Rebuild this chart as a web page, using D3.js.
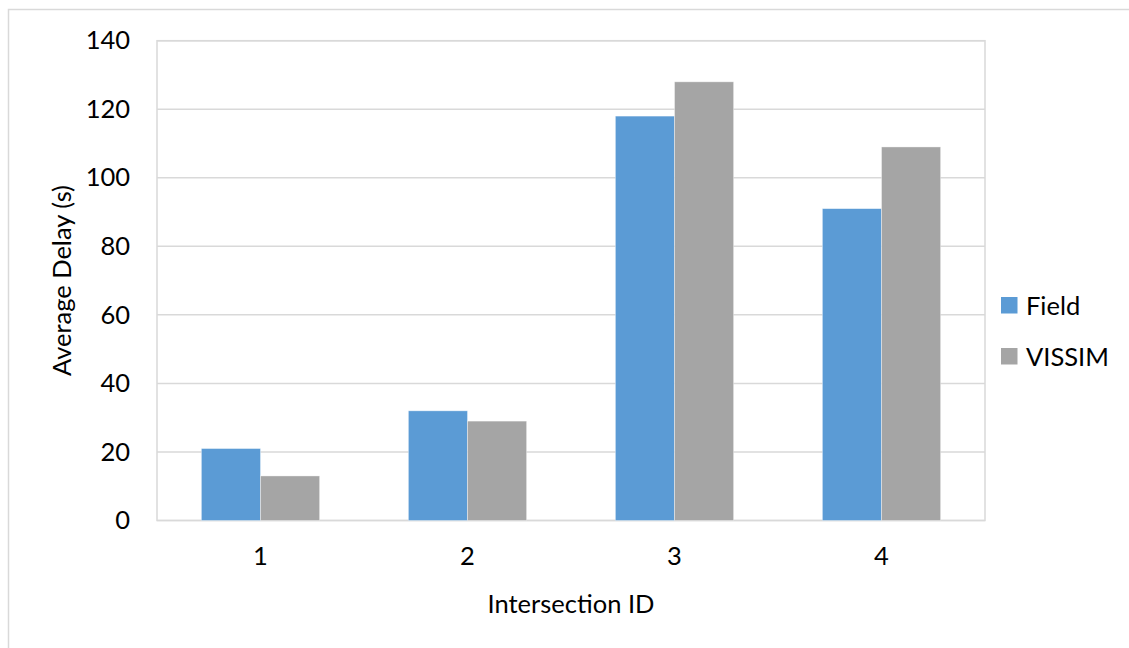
<!DOCTYPE html>
<html>
<head>
<meta charset="utf-8">
<script src="https://cdn.jsdelivr.net/npm/d3@7"></script>
<style>
  html, body { margin: 0; padding: 0; background: #fff; }
  svg { display: block; font-family: Lato, "Open Sans", sans-serif; }
</style>
</head>
<body>
<svg id="chart" width="1129" height="648"></svg>
<script>
// Average delay per intersection: field measurement vs. VISSIM simulation
const categories = ["1", "2", "3", "4"];
const seriesNames = ["Field", "VISSIM"];
const fieldValues = [21, 32, 118, 91];
const vissimValues = [13, 29, 128, 109];
const yTicks = [0, 20, 40, 60, 80, 100, 120, 140];
const colors = ["#5B9BD5", "#A5A5A5"];

const svg = d3.select("#chart");
const W = 1129, H = 648;
const plot = { left: 157, right: 985, top: 40.7, bottom: 520.5 };
const FS = 25.5;

// outer chart frame
svg.append("rect")
  .attr("x", 8.5).attr("y", 9.5)
  .attr("width", W).attr("height", H)
  .attr("fill", "#fff").attr("stroke", "#d9d9d9").attr("stroke-width", 1.5);

const x0 = d3.scaleBand().domain(categories)
  .range([plot.left, plot.right]).paddingInner(1.5 / 3.5).paddingOuter(0.75 / 3.5);
const x1 = d3.scaleBand().domain(seriesNames).range([0, x0.bandwidth()]);
const y = d3.scaleLinear().domain([0, 140]).range([plot.bottom, plot.top]);

// gridlines
svg.append("g").selectAll("line").data(yTicks).join("line")
  .attr("x1", plot.left).attr("x2", plot.right)
  .attr("y1", d => y(d)).attr("y2", d => y(d))
  .attr("stroke", "#d9d9d9").attr("stroke-width", 1.5);

// plot area border
svg.append("rect")
  .attr("x", plot.left).attr("y", plot.top)
  .attr("width", plot.right - plot.left).attr("height", plot.bottom - plot.top)
  .attr("fill", "none").attr("stroke", "#d9d9d9").attr("stroke-width", 1.5);

// bars
const rows = categories.map((c, i) => ({ cat: c, vals: [fieldValues[i], vissimValues[i]] }));
const groups = svg.append("g").selectAll("g").data(rows).join("g")
  .attr("transform", d => `translate(${x0(d.cat)},0)`);
groups.selectAll("rect")
  .data(d => d.vals.map((v, j) => ({ name: seriesNames[j], v, j })))
  .join("rect")
  .attr("x", d => x1(d.name))
  .attr("width", x1.bandwidth())
  .attr("y", d => y(d.v))
  .attr("height", d => y(0) - y(d.v))
  .attr("fill", d => colors[d.j])
  .attr("stroke", "rgba(255,255,255,0.5)").attr("stroke-width", 0.75);

// y axis labels
const yAxis = d3.axisLeft(y).tickValues(yTicks).tickSize(0).tickPadding(27);
const gy = svg.append("g").attr("transform", `translate(${plot.left},0)`).call(yAxis);
gy.select(".domain").remove();
gy.selectAll("text").attr("font-size", FS).attr("fill", "#000")
  .attr("font-family", "Lato, sans-serif");

// x axis labels
const xAxis = d3.axisBottom(x0).tickSize(0).tickPadding(26);
const gx = svg.append("g").attr("transform", `translate(0,${plot.bottom})`).call(xAxis);
gx.select(".domain").remove();
gx.selectAll("text").attr("font-size", FS).attr("fill", "#000")
  .attr("font-family", "Lato, sans-serif");

// axis titles
svg.append("text")
  .attr("x", (plot.left + plot.right) / 2).attr("y", 613)
  .attr("text-anchor", "middle").attr("font-size", FS).attr("fill", "#000")
  .text("Intersection ID");
svg.append("text")
  .attr("transform", `translate(71,${(plot.top + plot.bottom) / 2}) rotate(-90)`)
  .attr("text-anchor", "middle").attr("font-size", FS).attr("fill", "#000")
  .text("Average Delay (s)");

// legend
const legend = svg.append("g").selectAll("g").data(seriesNames).join("g")
  .attr("transform", (d, i) => `translate(1001,${297 + i * 51})`);
legend.append("rect").attr("width", 16.5).attr("height", 16.5)
  .attr("fill", (d, i) => colors[i]);
legend.append("text").attr("x", 25).attr("y", 8.5).attr("dy", "0.36em")
  .attr("font-size", FS).attr("fill", "#000").text(d => d);
</script>
</body>
</html>
